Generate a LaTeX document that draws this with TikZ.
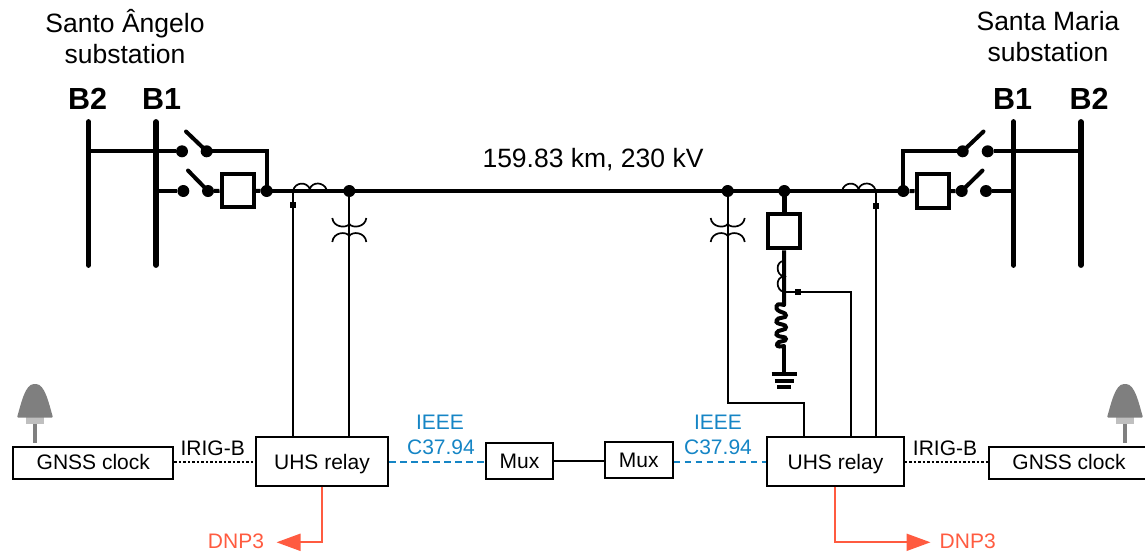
\documentclass[tikz,border=0pt]{standalone}
\usepackage{fontspec}
\setmainfont{Liberation Sans}
\usetikzlibrary{arrows.meta}
\definecolor{redc}{HTML}{FF5B40}
\definecolor{bluec}{HTML}{1585C5}
\definecolor{antA}{HTML}{7F7F7F}
\definecolor{antB}{HTML}{BFBFBF}
\tikzset{
  x=1pt,y=-1pt,
  busbar/.style={line width=5.8pt,line cap=round},
  heavy/.style={line width=4.5pt},
  medium/.style={line width=4pt},
  thinw/.style={line width=2pt},
  humps/.style={line width=1.7pt},
  dotn/.style={circle,fill=black,inner sep=0pt,minimum size=12pt},
  sqn/.style={rectangle,fill=black,inner sep=0pt,minimum size=6pt},
  brk/.style={rectangle,draw,fill=white,line width=4pt,inner sep=0pt},
  ibox/.style={rectangle,draw,fill=white,line width=2pt,inner sep=0pt,font=\fontsize{21}{24}\selectfont},
  lab/.style={inner sep=0pt,font=\fontsize{21}{24}\selectfont},
  title/.style={inner sep=0pt,align=center,font=\fontsize{26.5}{31}\selectfont},
  bus/.style={inner sep=0pt,font=\fontsize{30.5}{34}\bfseries\selectfont},
  dots/.style={line width=2pt,dash pattern=on 2.5pt off 2pt},
  blued/.style={line width=2pt,bluec,dash pattern=on 6.5pt off 4.5pt},
  redw/.style={line width=2pt,redc,-{Triangle[length=24pt,width=17pt]}},
  blade/.style={line width=4pt,line cap=round},
}
\newcommand{\antenna}[1]{%
  \fill[antA] (#1-1.8,420) rectangle (#1+1.8,443);
  \fill[antB] (#1-9,416) rectangle (#1+9,423.5);
  \fill[antA,rounded corners=1pt] (#1-18,417.5) .. controls (#1-14,404) and (#1-10,384) .. (#1,384) .. controls (#1+10,384) and (#1+14,404) .. (#1+18,417.5) -- cycle;
}
\newcommand{\vtcoil}[1]{%
  \draw[humps] (#1-17,218) .. controls (#1-16,227.5) and (#1-3,228.5) .. (#1,224) .. controls (#1+3,228.5) and (#1+16,227.5) .. (#1+17,218);
  \draw[humps] (#1-17,242) .. controls (#1-16,232) and (#1-3,231) .. (#1,236) .. controls (#1+3,231) and (#1+16,232) .. (#1+17,242);
}
\begin{document}
\begin{tikzpicture}
\useasboundingbox (0,0) rectangle (1145,552);
% titles
\node[title] (tl) at (125,37) {Santo Ângelo\\substation};
\node[title] (tr) at (1048,37) {Santa Maria\\substation};
\node[bus] (b2lL) at (87.5,99) {B2};
\node[bus] (b1lL) at (161.5,99) {B1};
\node[bus] (b1rL) at (1012.5,99) {B1};
\node[bus] (b2rL) at (1089,99) {B2};
\node[inner sep=0pt,font=\fontsize{26.5}{30}\selectfont] (ll) at (593,160) {159.83 km, 230 kV};
% bus coordinates
\coordinate (b2lt) at (88.5,122); \coordinate (b2lb) at (88.5,265);
\coordinate (b1lt) at (156,122);  \coordinate (b1lb) at (156,265);
\coordinate (b1rt) at (1013.5,122); \coordinate (b1rb) at (1013.5,265);
\coordinate (b2rt) at (1081,122); \coordinate (b2rb) at (1081,265);
\draw[busbar] (b2lt) -- (b2lb);
\draw[busbar] (b1lt) -- (b1lb);
\draw[busbar] (b1rt) -- (b1rb);
\draw[busbar] (b2rt) -- (b2rb);
% left bay
\node[dotn] (dl1) at (182,151.3) {};
\node[dotn] (dl2) at (206.7,151.3) {};
\node[dotn] (dl3) at (183.3,191) {};
\node[dotn] (dl4) at (208,191) {};
\node[dotn] (jl) at (266.7,191) {};
\node[brk,minimum width=32pt,minimum height=33pt] (bl) at (237.5,190.8) {};
\coordinate (bal1) at (186,131.5);
\coordinate (bal2) at (188,170.5);
\draw[medium] (b2lt |- dl1) -- (dl1);
\draw[medium] (b1lt |- dl3) -- (dl3);
\draw[medium] (dl2.center) -| (jl.center);
\draw[medium] (dl4) -- (bl);
\draw[medium] (bl) -- (jl);
\draw[blade] (dl2.center) -- (bal1);
\draw[blade] (dl4.center) -- (bal2);
% right bay
\node[dotn] (dr1) at (987.7,151.3) {};
\node[dotn] (dr2) at (962.7,151.3) {};
\node[dotn] (dr3) at (986,191) {};
\node[dotn] (dr4) at (961.7,191) {};
\node[dotn] (jr) at (903.3,191) {};
\node[brk,minimum width=32pt,minimum height=34pt] (br) at (932.5,191.3) {};
\coordinate (bar1) at (983.5,131.5);
\coordinate (bar2) at (982.5,170.5);
\draw[medium] (dr1) -- (b2rt |- dr1);
\draw[medium] (dr3) -- (b1rt |- dr3);
\draw[medium] (dr2.center) -| (jr.center);
\draw[medium] (dr4) -- (br);
\draw[medium] (br) -- (jr);
\draw[blade] (dr2.center) -- (bar1);
\draw[blade] (dr4.center) -- (bar2);
% main line
\node[dotn] (vl) at (349.3,191) {};
\node[dotn] (vr) at (727.7,191) {};
\node[dotn] (rj) at (784.3,191) {};
\draw[heavy] (jl.center) -- (jr.center);
% line CTs
\draw[humps] (293,191) .. controls (295,181.5) and (307,181.5) .. (309.8,189) .. controls (312,181.5) and (324,181.5) .. (326.7,190);
\draw[humps] (842,191) .. controls (844,181.5) and (856,181.5) .. (858.5,189) .. controls (861,181.5) and (873,181.5) .. (875.5,190);
% boxes
\node[ibox,minimum width=160pt,minimum height=32.6pt,text depth=1.5pt] (gl) at (93.3,463) {GNSS clock};
\node[ibox,minimum width=132.6pt,minimum height=48.4pt,text depth=0pt] (rl) at (322,461.5) {UHS relay};
\node[ibox,minimum width=67.6pt,minimum height=36pt] (ml) at (519.5,461.3) {Mux};
\node[ibox,minimum width=67.6pt,minimum height=36pt] (mr) at (638.8,460.3) {Mux};
\node[ibox,minimum width=136.4pt,minimum height=48.4pt,text depth=0pt] (rr) at (835.5,461.5) {UHS relay};
\node[ibox,minimum width=160pt,minimum height=32.6pt,anchor=west] (gr) at (988.3,463) {};
\node[lab] (grt) at (1069,461.5) {GNSS clock};
% left leads
\node[sqn] (sl) at (292.5,205.3) {};
\coordinate (tsl) at (292.5,191);
\draw[thinw] (tsl) -- (tsl |- rl.north);
\draw[thinw] (vl.center) -- (vl.center |- rl.north);
\vtcoil{349.3}
% right leads
\node[sqn] (sr) at (876,206) {};
\coordinate (tsr) at (876,191);
\draw[thinw] (tsr) -- (tsr |- rr.north);
\coordinate (vk) at (804,402.7);
\draw[thinw] (vr.center) |- (vk) -- (vk |- rr.north);
\vtcoil{727.7}
% reactor
\node[brk,minimum width=32pt,minimum height=34pt] (rb) at (784.3,231.3) {};
\coordinate (cs) at (784,292.3);
\coordinate (cc) at (784,305);
\coordinate (ce) at (784,346);
\node[sqn] (srb) at (798.3,292.3) {};
\coordinate (gnd) at (784,373.3);
\draw[heavy] (rj.center) -- (rb);
\draw[medium] (rb) -- (cc);
\draw[medium,line cap=round] plot[smooth,tension=0.75] coordinates {(cc) (778,304.5) (776.5,308.5) (780,311.5) (785,313.5) (785,317) (778.5,318.5) (776.5,322) (780,324) (785,325.5) (785,329) (778.5,331) (776.5,334.5) (780,336.5) (785,337.5) (785,340.5) (779,342) (777,345) (779.5,346.5) (ce)};
\draw[medium] (ce) -- (gnd);
\draw[humps] (784,261) .. controls (775.5,261) and (775.5,275) .. (784,276.5) .. controls (775.5,277) and (775.5,290) .. (784,292);
\draw[thinw] (cs) -| (851,437.3);
\coordinate (g1l) at (771.7,373.5); \coordinate (g1r) at (796.5,373.5);
\coordinate (g2l) at (774.5,380.5); \coordinate (g2r) at (793.5,380.5);
\coordinate (g3l) at (777,387.3); \coordinate (g3r) at (791,387.3);
\draw[medium] (g1l) -- (g1r);
\draw[medium] (g2l) -- (g2r);
\draw[medium] (g3l) -- (g3r);
% antennas
\antenna{35}
\antenna{1125}
% comms
\draw[dots] (gl.east |- rl.west) -- (rl.west);
\draw[dots] (rr.east) -- (rr.east -| gr.west);
\draw[blued] (rl.east) -- (ml.west |- rl.east);
\draw[blued] (mr.east |- rr.west) -- (rr.west);
\draw[line width=2pt] (ml.east) -- (ml.east -| mr.west);
\node[lab] (il) at (212.7,448.5) {IRIG-B};
\node[lab] (ir) at (945,448.5) {IRIG-B};
\node[lab,text=bluec] (e1) at (440,422) {IEEE};
\node[lab,text=bluec] (c1) at (441,447.7) {C37.94};
\node[lab,text=bluec] (e2) at (718,422.5) {IEEE};
\node[lab,text=bluec] (c2) at (718,447.7) {C37.94};
% DNP3
\node[lab,text=redc] (dl) at (236,541) {DNP3};
\node[lab,text=redc] (dr) at (967.7,541) {DNP3};
\coordinate (tipl) at (276.5,542.3);
\coordinate (tipr) at (930.5,542.3);
\draw[redw] (rl.south -| 322.3,0) |- (tipl);
\draw[redw] (rr.south -| 835,0) |- (tipr);
\end{tikzpicture}
\end{document}
